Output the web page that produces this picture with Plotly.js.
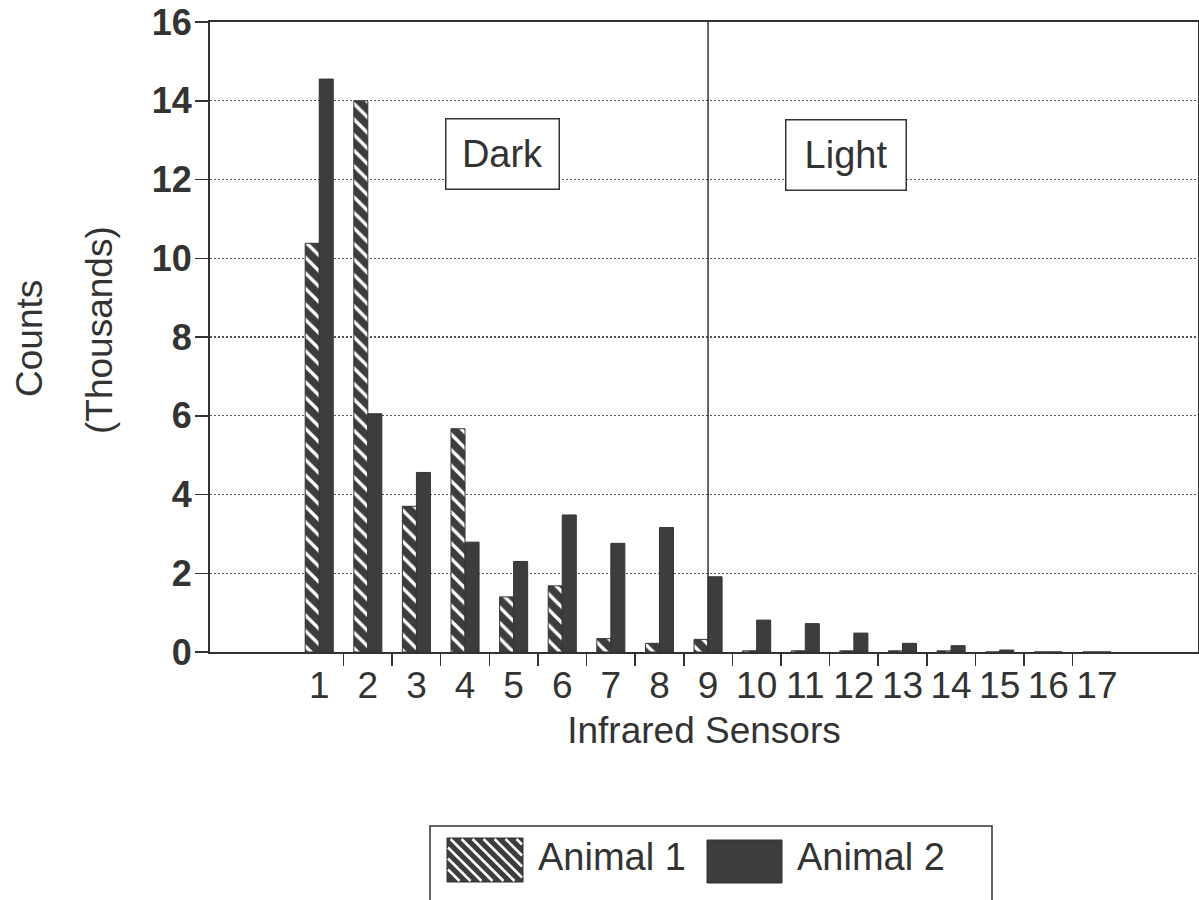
<!DOCTYPE html>
<html>
<head>
<meta charset="utf-8">
<script src="https://cdn.plot.ly/plotly-3.0.1.min.js"></script>
<style>html,body{margin:0;padding:0;background:#fff;}#chart{width:1199px;height:900px;}</style>
</head>
<body>
<div id="chart"></div>
<script>
// ---- data ----
const sensors = [1,2,3,4,5,6,7,8,9,10,11,12,13,14,15,16,17];
const sensorLabels = ["1","2","3","4","5","6","7","8","9","10","11","12","13","14","15","16","17"];
const animal1 = [10.38, 14.0, 3.7, 5.67, 1.4, 1.68, 0.34, 0.22, 0.32, 0.03, 0.03, 0.03, 0.03, 0.03, 0, 0, 0];
const animal2 = [14.55, 6.05, 4.56, 2.79, 2.3, 3.48, 2.76, 3.16, 1.91, 0.81, 0.72, 0.48, 0.22, 0.16, 0.05, 0, 0];
const yTicks = [0, 2, 4, 6, 8, 10, 12, 14, 16];
const seriesNames = ["Animal 1", "Animal 2"];
const zoneLabels = ["Dark", "Light"];
const boundarySensor = 9;

// ---- styling helpers (pixel -> paper) ----
const W = 1199, H = 900;
const M = {l: 210, r: 1, t: 22, b: 248};
const PW = W - M.l - M.r, PH = H - M.t - M.b;
const px = x => (x - M.l) / PW;
const py = y => (H - M.b - y) / PH;
const INK = '#333';
const BAR = '#3d3d3d';
const FONT = 'Liberation Sans, Arial, Helvetica, sans-serif';

const traces = [
  {
    type: 'bar', name: seriesNames[0], x: sensors, y: animal1,
    marker: {
      color: BAR,
      line: {color: INK, width: 1},
      pattern: {shape: '\\', fillmode: 'replace', bgcolor: BAR, fgcolor: '#ffffff', size: 11, solidity: 0.3}
    },
    showlegend: false, hoverinfo: 'x+y'
  },
  {
    type: 'bar', name: seriesNames[1], x: sensors, y: animal2,
    marker: {color: BAR, line: {color: INK, width: 1}},
    showlegend: false, hoverinfo: 'x+y'
  }
];

// hatched legend swatch stripes
function stripePath(x0, y0, x1, y1, step) {
  let d = '';
  for (let c = (y0 - x1) + step / 2; c < (y1 - x0); c += step) {
    const xa = Math.max(x0, y0 - c), xb = Math.min(x1, y1 - c);
    if (xb - xa < 1) continue;
    d += 'M' + px(xa).toFixed(5) + ',' + py(xa + c).toFixed(5) + 'L' + px(xb).toFixed(5) + ',' + py(xb + c).toFixed(5);
  }
  return d;
}

const shapes = [
  // Dark / Light boundary
  {type: 'line', xref: 'x', yref: 'paper', x0: boundarySensor, x1: boundarySensor, y0: 0, y1: 1,
   line: {color: INK, width: 1.5}, layer: 'above'},
  // legend frame
  {type: 'rect', xref: 'paper', yref: 'paper', x0: px(430), x1: px(992), y0: py(826), y1: py(915),
   line: {color: INK, width: 1.5}, fillcolor: '#ffffff'},
  // swatch Animal 1 (hatched)
  {type: 'rect', xref: 'paper', yref: 'paper', x0: px(447), x1: px(523), y0: py(838), y1: py(882),
   line: {color: INK, width: 1}, fillcolor: BAR},
  {type: 'path', xref: 'paper', yref: 'paper', path: stripePath(448, 839, 522, 881, 11),
   line: {color: '#ffffff', width: 2.5}},
  // swatch Animal 2 (solid)
  {type: 'rect', xref: 'paper', yref: 'paper', x0: px(707), x1: px(782), y0: py(840), y1: py(883),
   line: {color: INK, width: 1}, fillcolor: BAR}
];

const annotations = [
  {text: 'Counts', xref: 'paper', yref: 'paper', x: px(29), y: py(339), textangle: -90,
   showarrow: false, xanchor: 'center', yanchor: 'middle', font: {size: 37, color: INK, family: FONT}},
  {text: '(Thousands)', xref: 'paper', yref: 'paper', x: px(99), y: py(330), textangle: -90,
   showarrow: false, xanchor: 'center', yanchor: 'middle', font: {size: 37, color: INK, family: FONT}},
  {text: zoneLabels[0], xref: 'paper', yref: 'paper', x: px(502.5), y: py(154), showarrow: false,
   xanchor: 'center', yanchor: 'middle', width: 112, height: 69, borderpad: 0, borderwidth: 1.5,
   bordercolor: INK, bgcolor: '#ffffff', font: {size: 38, color: INK, family: FONT}},
  {text: zoneLabels[1], xref: 'paper', yref: 'paper', x: px(846), y: py(155), showarrow: false,
   xanchor: 'center', yanchor: 'middle', width: 119, height: 69, borderpad: 0, borderwidth: 1.5,
   bordercolor: INK, bgcolor: '#ffffff', font: {size: 38, color: INK, family: FONT}},
  {text: seriesNames[0], xref: 'paper', yref: 'paper', x: px(536), y: py(857), showarrow: false,
   xanchor: 'left', yanchor: 'middle', font: {size: 38, color: INK, family: FONT}},
  {text: seriesNames[1], xref: 'paper', yref: 'paper', x: px(795), y: py(857), showarrow: false,
   xanchor: 'left', yanchor: 'middle', font: {size: 38, color: INK, family: FONT}}
];

const layout = {
  width: W, height: H,
  margin: M,
  paper_bgcolor: '#ffffff', plot_bgcolor: '#ffffff',
  font: {family: FONT, color: INK},
  barmode: 'group', bargap: 0.423, bargroupgap: 0,
  showlegend: false,
  xaxis: {
    range: [-1.247, 19.08],
    tickmode: 'array', tickvals: sensors, ticktext: sensorLabels,
    ticks: 'outside', ticklen: 12, tickcolor: 'rgba(0,0,0,0)',
    ticklabelstandoff: -12,
    tickfont: {size: 37, color: INK, family: FONT},
    minor: {tickmode: 'array', tickvals: sensors.slice(0, -1).map(s => s + 0.5),
            ticks: 'outside', ticklen: 12, tickwidth: 1.5, tickcolor: INK, showgrid: false},
    showgrid: false, zeroline: false,
    showline: true, linecolor: INK, linewidth: 2, mirror: true,
    title: {text: 'Infrared Sensors', font: {size: 37, color: INK, family: FONT}, standoff: 12},
    automargin: false, fixedrange: true
  },
  yaxis: {
    range: [0, 16],
    tickmode: 'array', tickvals: yTicks,
    ticks: 'outside', ticklen: 13, tickwidth: 1.5, tickcolor: INK,
    ticklabelstandoff: -4,
    tickfont: {size: 36, color: INK, family: FONT, weight: 'bold'},
    showgrid: true, gridcolor: '#555', gridwidth: 1.2, griddash: '2px,2px',
    zeroline: false,
    showline: true, linecolor: INK, linewidth: 2, mirror: true,
    automargin: false, fixedrange: true
  },
  shapes: shapes,
  annotations: annotations
};

Plotly.newPlot('chart', traces, layout, {displayModeBar: false, staticPlot: true});
</script>
</body>
</html>
